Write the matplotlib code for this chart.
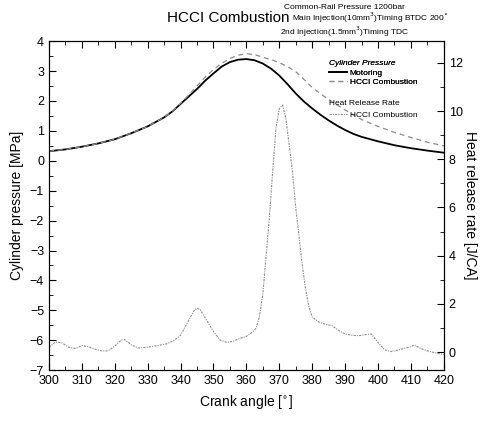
import numpy as np
import matplotlib
matplotlib.use("Agg")
import matplotlib.pyplot as plt
from matplotlib.ticker import MultipleLocator

plt.rcParams['font.family'] = ['Liberation Sans', 'DejaVu Sans']

# cylinder pressure [MPa] vs crank angle
p_angle = [300, 305, 310, 315, 320, 325, 330, 335, 337.5, 340, 342.5, 345, 347.5, 350,
           352.5, 355, 357.5, 360, 362.5, 365, 367.5, 370, 372.5, 375, 377.5, 380,
           382.5, 385, 387.5, 390, 392.5, 395, 400, 405, 410, 415, 420]
p_motoring = [0.32, 0.38, 0.47, 0.58, 0.72, 0.92, 1.15, 1.45, 1.65, 1.90, 2.15, 2.40, 2.68, 2.92,
              3.15, 3.30, 3.38, 3.40, 3.36, 3.25, 3.08, 2.85, 2.56, 2.25, 1.98, 1.75,
              1.54, 1.35, 1.18, 1.03, 0.90, 0.80, 0.65, 0.52, 0.42, 0.34, 0.27]
p_hcci = [0.32, 0.38, 0.47, 0.58, 0.72, 0.92, 1.15, 1.45, 1.66, 1.92, 2.20, 2.50, 2.80, 3.05,
          3.26, 3.42, 3.53, 3.58, 3.55, 3.46, 3.38, 3.28, 3.15, 2.98, 2.72, 2.45,
          2.24, 2.05, 1.87, 1.70, 1.53, 1.38, 1.15, 0.95, 0.78, 0.62, 0.50]

# heat release rate [J/CA]
hrr_angle = [300, 302, 304, 306, 308, 310, 312, 314, 316, 318, 320, 322, 323, 325, 327,
             330, 333, 336, 338, 340, 342, 344, 345, 346, 348, 350, 352, 354, 356, 358,
             360, 362, 363, 364, 365, 366, 367, 368, 369, 370, 371, 372, 373, 374, 375,
             376, 377, 378, 379, 380, 382, 384, 386, 388, 390, 392, 394, 396, 398, 400,
             402, 404, 406, 408, 410, 411, 413, 415, 418, 420]
hrr = [0.20, 0.42, 0.38, 0.20, 0.15, 0.27, 0.22, 0.12, 0.05, 0.05, 0.25, 0.50, 0.52, 0.30, 0.17,
       0.20, 0.27, 0.35, 0.48, 0.70, 1.20, 1.70, 1.82, 1.75, 1.30, 0.85, 0.50, 0.40, 0.45, 0.57,
       0.65, 0.85, 1.00, 1.50, 2.40, 4.00, 5.60, 7.50, 9.30, 10.10, 10.25, 9.70, 8.60, 7.50, 6.00,
       4.80, 3.60, 2.60, 1.90, 1.45, 1.25, 1.15, 1.10, 0.90, 0.75, 0.70, 0.68, 0.72, 0.75, 0.40,
       0.10, 0.02, 0.08, 0.15, 0.22, 0.30, 0.15, 0.05, -0.05, -0.10]

fig = plt.figure(figsize=(4.85, 4.24), dpi=100)
ax = fig.add_axes([0.101, 0.127, 0.814, 0.776])
ax2 = ax.twinx()

l_mot, = ax.plot(p_angle, p_motoring, color='black', lw=1.3)
l_hcci, = ax.plot(p_angle, p_hcci, color='0.55', lw=0.9, linestyle=(0, (4, 3)))
l_hrr, = ax2.plot(hrr_angle, hrr, color='0.55', lw=0.8, linestyle=(0, (2, 1, 1, 1)))

ax.set_xlim(300, 420)
ax.set_ylim(-7, 4)
ax2.set_ylim(-0.75, 12.9)

ax.xaxis.set_major_locator(MultipleLocator(10))
ax.xaxis.set_minor_locator(MultipleLocator(5))
ax.yaxis.set_major_locator(MultipleLocator(1))
ax.yaxis.set_minor_locator(MultipleLocator(0.5))
ax2.yaxis.set_major_locator(MultipleLocator(2))
ax2.yaxis.set_minor_locator(MultipleLocator(1))

ax.tick_params(which='both', direction='in', top=True, labelsize=9)
ax.tick_params(which='major', length=5)
ax.tick_params(which='minor', length=3)
ax2.tick_params(which='both', direction='in', labelsize=9)
ax2.tick_params(which='major', length=5)
ax2.tick_params(which='minor', length=3)

ax.set_xlabel('Crank angle [$^{\\circ}$]', fontsize=10)
ax.set_ylabel('Cylinder pressure [MPa]', fontsize=10)
ax2.set_ylabel('Heat release rate [J/CA]', fontsize=10, rotation=-90, labelpad=10)

fig.text(0.47, 0.957, 'HCCI Combustion', fontsize=11, ha='center', va='center')
fig.text(0.71, 0.983, 'Common-Rail Pressure 1200bar', fontsize=6, ha='center', va='center')
fig.text(0.603, 0.957, 'Main Injection(10mm$^3$)Timing BTDC 200$^{\\circ}$', fontsize=6,
         ha='left', va='center')
fig.text(0.71, 0.925, '2nd Injection(1.5mm$^3$)Timing TDC', fontsize=6, ha='center', va='center')

leg1 = ax.legend([l_mot, l_hcci], ['Motoring', 'HCCI Combustion'], title='Cylinder Pressure',
                 loc='upper left', bbox_to_anchor=(0.69, 0.965), frameon=False, fontsize=6,
                 handlelength=2.2, handletextpad=0.3, labelspacing=0.2, alignment='left',
                 title_fontproperties={'size': 6, 'style': 'italic'})
ax2.legend([l_hrr], ['HCCI Combustion'], title='Heat Release Rate',
           loc='upper left', bbox_to_anchor=(0.69, 0.845), frameon=False, fontsize=6,
           handlelength=2.2, handletextpad=0.3, alignment='left',
           title_fontproperties={'size': 6})
ax.add_artist(leg1)

fig.savefig('out.png', dpi=100)
